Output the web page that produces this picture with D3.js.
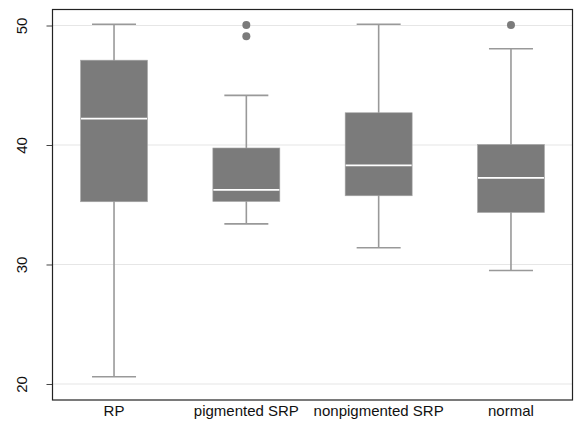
<!DOCTYPE html>
<html>
<head>
<meta charset="utf-8">
<script src="https://cdn.jsdelivr.net/npm/d3@7"></script>
<style>
  body { margin: 0; background: white; }
  text { font-family: "Liberation Sans", Arial, sans-serif; }
</style>
</head>
<body>
<div id="chart"></div>
<script>
// Box statistics
const categories = ["RP", "pigmented SRP", "nonpigmented SRP", "normal"];
const lowerWhisker = [20.6, 33.4, 31.4, 29.5];
const q1 = [35.25, 35.27, 35.75, 34.35];
const median = [42.2, 36.25, 38.3, 37.25];
const q3 = [47.1, 39.75, 42.7, 40.05];
const upperWhisker = [50.1, 44.15, 50.1, 48.05];
const outliers = [[], [50.05, 49.1], [], [50.05]];
const yTicks = [20, 30, 40, 50];

const width = 576, height = 423;
const margin = {top: 9.5, right: 3.5, bottom: 23, left: 52.5};

const svg = d3.select("#chart").append("svg")
    .attr("width", width)
    .attr("height", height);

const x = d3.scalePoint()
    .domain(categories)
    .range([margin.left, width - margin.right])
    .padding(0.465);

const y = d3.scaleLinear()
    .domain([18.66, 51.34])
    .range([height - margin.bottom, margin.top]);

// Gridlines
svg.append("g")
    .selectAll("line")
    .data(yTicks)
    .join("line")
        .attr("x1", margin.left)
        .attr("x2", width - margin.right)
        .attr("y1", d => y(d))
        .attr("y2", d => y(d))
        .attr("stroke", "#e6e6e6")
        .attr("stroke-width", 1.2);

// Y axis ticks and rotated labels
const yaxis = svg.append("g")
    .attr("transform", `translate(${margin.left},0)`)
    .call(d3.axisLeft(y).tickValues(yTicks).tickSize(6).tickFormat(d3.format("d")));
yaxis.select(".domain").remove();
yaxis.selectAll(".tick line").attr("stroke", "#444");
yaxis.selectAll(".tick text")
    .attr("x", null)
    .attr("dy", null)
    .attr("text-anchor", "middle")
    .attr("transform", "translate(-25.5,0) rotate(-90)")
    .attr("font-size", 15)
    .attr("fill", "#111");

// X labels
svg.append("g")
    .selectAll("text")
    .data(categories)
    .join("text")
        .attr("x", d => x(d))
        .attr("y", 416)
        .attr("text-anchor", "middle")
        .attr("font-size", 15)
        .attr("fill", "#111")
        .text(d => d);

const boxW = 67, capW = 44;
const boxes = svg.append("g")
    .selectAll("g")
    .data(categories)
    .join("g")
        .attr("transform", d => `translate(${x(d)},0)`);

// Whisker stems
boxes.append("line")
    .attr("y1", (d, i) => y(lowerWhisker[i]))
    .attr("y2", (d, i) => y(upperWhisker[i]))
    .attr("stroke", "#999")
    .attr("stroke-width", 1.6);

// Whisker caps
boxes.selectAll("line.cap")
    .data((d, i) => [lowerWhisker[i], upperWhisker[i]])
    .join("line")
        .attr("class", "cap")
        .attr("x1", -capW / 2)
        .attr("x2", capW / 2)
        .attr("y1", v => y(v))
        .attr("y2", v => y(v))
        .attr("stroke", "#999")
        .attr("stroke-width", 1.6);

// Boxes
boxes.append("rect")
    .attr("x", -boxW / 2)
    .attr("width", boxW)
    .attr("y", (d, i) => y(q3[i]))
    .attr("height", (d, i) => y(q1[i]) - y(q3[i]))
    .attr("fill", "#7b7b7b")
    .attr("stroke", "#a8a8a8")
    .attr("stroke-width", 0.6);

// Medians
boxes.append("line")
    .attr("x1", -boxW / 2 + 0.5)
    .attr("x2", boxW / 2 - 0.5)
    .attr("y1", (d, i) => y(median[i]))
    .attr("y2", (d, i) => y(median[i]))
    .attr("stroke", "white")
    .attr("stroke-width", 1.8);

// Outliers
boxes.selectAll("circle")
    .data((d, i) => outliers[i])
    .join("circle")
        .attr("cx", 0)
        .attr("cy", v => y(v))
        .attr("r", 4)
        .attr("fill", "#7b7b7b");

// Frame
svg.append("rect")
    .attr("x", margin.left)
    .attr("y", margin.top)
    .attr("width", width - margin.left - margin.right)
    .attr("height", height - margin.top - margin.bottom)
    .attr("fill", "none")
    .attr("stroke", "#222")
    .attr("stroke-width", 1.2);
</script>
</body>
</html>
